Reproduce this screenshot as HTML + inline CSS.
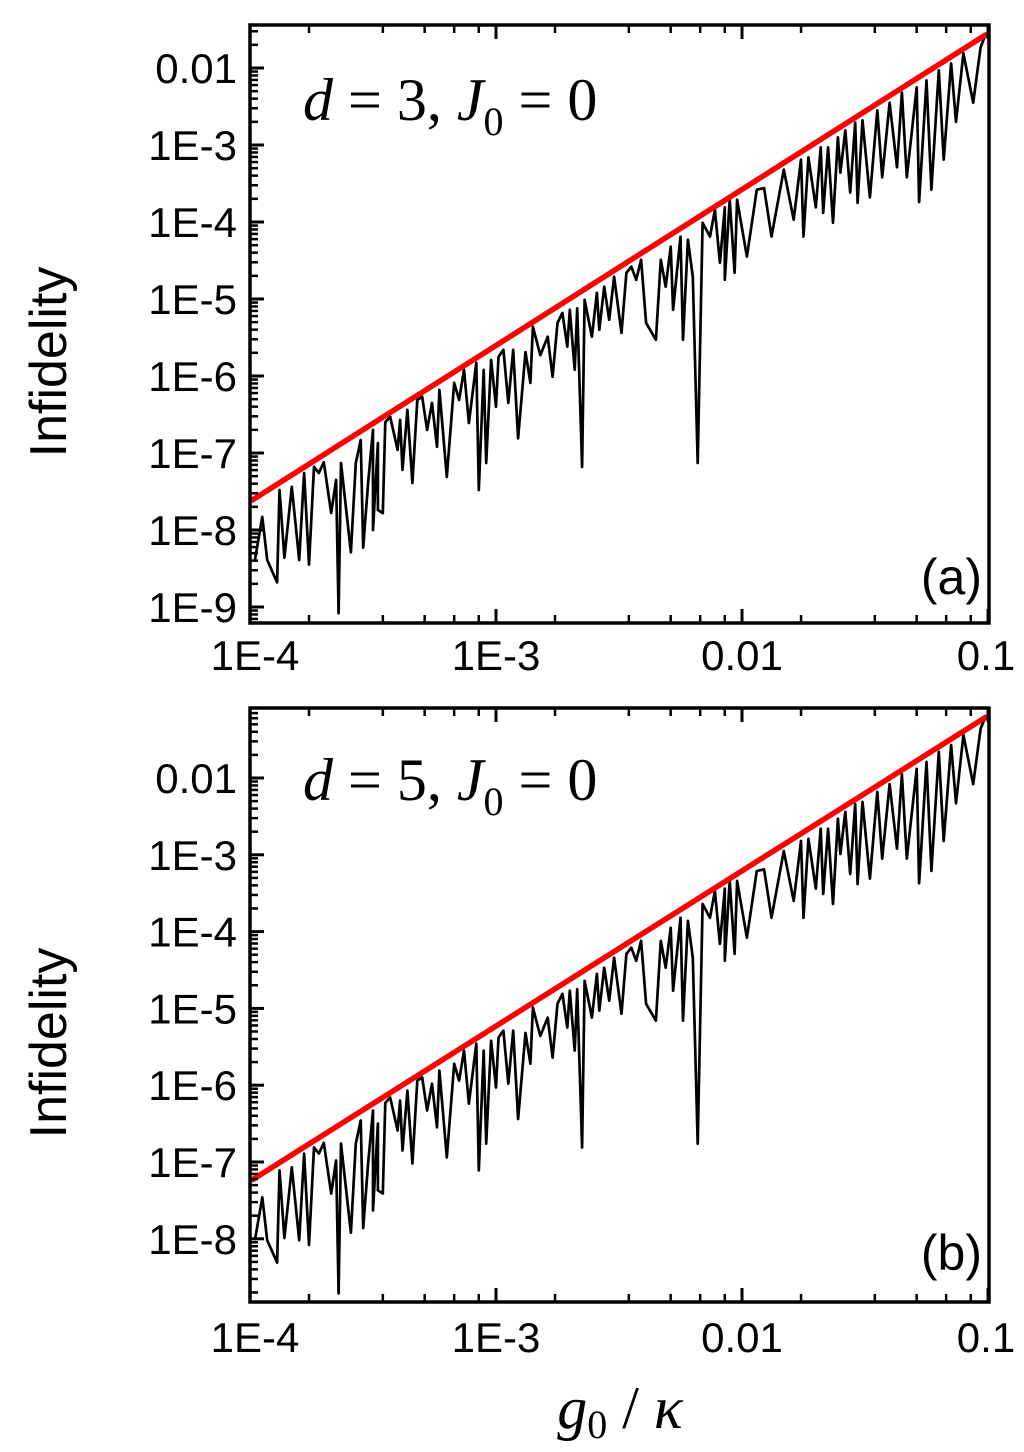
<!DOCTYPE html>
<html><head><meta charset="utf-8"><style>
html,body{margin:0;padding:0;background:#fff;}
svg{display:block;}
text{font-family:"Liberation Sans",sans-serif;fill:#000;}
.serif{font-family:"Liberation Serif",serif;}
</style></head><body>
<svg id="fig" width="1024" height="1452" viewBox="0 0 1024 1452" xmlns="http://www.w3.org/2000/svg">
</svg>
<script>
// log10(g0/kappa) sample positions
const xLog = [-3.98,-3.95,-3.93,-3.89,-3.88,-3.86,-3.83,-3.80,-3.78,-3.76,-3.74,-3.72,-3.70,-3.67,-3.65,-3.64,-3.63,-3.59,-3.57,-3.55,-3.54,-3.52,-3.50,-3.50,-3.48,-3.48,-3.46,-3.45,-3.43,-3.40,-3.39,-3.38,-3.36,-3.34,-3.32,-3.30,-3.28,-3.26,-3.24,-3.23,-3.20,-3.17,-3.15,-3.13,-3.11,-3.08,-3.07,-3.05,-3.04,-3.02,-3.00,-2.99,-2.97,-2.95,-2.93,-2.91,-2.88,-2.86,-2.85,-2.82,-2.79,-2.77,-2.75,-2.73,-2.71,-2.70,-2.68,-2.67,-2.65,-2.64,-2.61,-2.59,-2.58,-2.56,-2.54,-2.52,-2.49,-2.47,-2.45,-2.43,-2.41,-2.39,-2.35,-2.33,-2.31,-2.29,-2.28,-2.25,-2.24,-2.22,-2.20,-2.18,-2.16,-2.13,-2.11,-2.09,-2.07,-2.07,-2.05,-2.03,-2.02,-1.98,-1.94,-1.91,-1.88,-1.83,-1.79,-1.76,-1.75,-1.73,-1.70,-1.68,-1.67,-1.65,-1.63,-1.61,-1.60,-1.58,-1.56,-1.54,-1.53,-1.51,-1.48,-1.45,-1.43,-1.40,-1.37,-1.35,-1.33,-1.29,-1.28,-1.25,-1.23,-1.20,-1.18,-1.15,-1.13,-1.10,-1.06,-1.03,-1.01];
// log10(infidelity), panel (a) d=3
const yLogA = [-8.39,-7.83,-8.39,-8.68,-7.48,-8.36,-7.44,-8.39,-7.26,-8.45,-7.18,-7.26,-7.12,-7.78,-7.35,-9.08,-7.13,-8.29,-7.13,-6.83,-8.23,-7.39,-6.70,-8.00,-6.87,-7.74,-7.78,-6.60,-6.53,-6.96,-6.57,-7.22,-6.44,-7.39,-6.31,-6.27,-6.70,-6.35,-6.92,-6.18,-7.31,-6.09,-6.31,-5.92,-6.61,-5.83,-7.48,-5.92,-7.13,-5.79,-6.40,-5.75,-5.66,-6.35,-5.66,-6.81,-5.69,-6.09,-5.36,-5.73,-5.49,-6.01,-5.31,-5.18,-5.62,-5.14,-5.92,-5.12,-7.18,-5.01,-5.49,-4.92,-5.40,-4.84,-5.27,-4.71,-5.44,-4.66,-4.58,-4.75,-4.49,-5.31,-5.53,-4.49,-4.84,-4.32,-5.14,-4.19,-5.53,-4.23,-4.71,-7.13,-4.01,-4.19,-3.84,-4.53,-3.81,-4.75,-3.71,-4.66,-3.71,-4.45,-3.58,-3.56,-4.19,-3.32,-3.97,-3.19,-4.19,-3.16,-3.81,-3.03,-3.88,-3.03,-4.01,-2.90,-3.36,-2.81,-3.62,-2.71,-3.75,-2.68,-3.68,-2.55,-3.42,-2.45,-3.29,-2.32,-3.42,-2.25,-3.74,-2.16,-3.58,-2.03,-3.19,-1.94,-2.70,-1.81,-2.45,-1.73,-1.57];
// log10(infidelity), panel (b) d=5
const yLogB = [-8.02,-7.46,-8.02,-8.31,-7.11,-7.99,-7.07,-8.02,-6.89,-8.08,-6.81,-6.89,-6.75,-7.41,-6.98,-8.71,-6.76,-7.92,-6.76,-6.46,-7.86,-7.02,-6.33,-7.63,-6.50,-7.37,-7.41,-6.23,-6.16,-6.59,-6.20,-6.85,-6.07,-7.02,-5.94,-5.90,-6.33,-5.98,-6.55,-5.81,-6.94,-5.72,-5.94,-5.55,-6.24,-5.46,-7.11,-5.55,-6.76,-5.42,-6.03,-5.38,-5.29,-5.98,-5.29,-6.44,-5.32,-5.72,-4.99,-5.36,-5.12,-5.64,-4.94,-4.81,-5.25,-4.77,-5.55,-4.75,-6.81,-4.64,-5.12,-4.55,-5.03,-4.47,-4.90,-4.34,-5.07,-4.29,-4.21,-4.38,-4.12,-4.94,-5.16,-4.12,-4.47,-3.95,-4.77,-3.82,-5.16,-3.86,-4.34,-6.76,-3.64,-3.82,-3.47,-4.16,-3.44,-4.38,-3.34,-4.29,-3.34,-4.08,-3.21,-3.19,-3.82,-2.95,-3.60,-2.82,-3.82,-2.79,-3.44,-2.66,-3.51,-2.66,-3.64,-2.53,-2.99,-2.44,-3.25,-2.34,-3.38,-2.31,-3.31,-2.18,-3.05,-2.08,-2.92,-1.95,-3.05,-1.88,-3.37,-1.79,-3.21,-1.66,-2.82,-1.57,-2.33,-1.44,-2.08,-1.36,-1.20];
// red upper-bound lines (log10 values)
const redX = [-3.99,-1.01];
const redYA = [-7.61,-1.57];
const redYB = [-7.23,-1.21];
// tick labels
const xTickVals = [-4,-3,-2,-1];
const xTickLabels = ["1E-4","1E-3","0.01","0.1"];
const yTickValsA = [-9,-8,-7,-6,-5,-4,-3,-2];
const yTickLabelsA = ["1E-9","1E-8","1E-7","1E-6","1E-5","1E-4","1E-3","0.01"];
const yTickValsB = [-8,-7,-6,-5,-4,-3,-2];
const yTickLabelsB = ["1E-8","1E-7","1E-6","1E-5","1E-4","1E-3","0.01"];

const NS="http://www.w3.org/2000/svg";
const svg=document.getElementById('fig');
function mk(tag,attrs,parent){const e=document.createElementNS(NS,tag);for(const k in attrs)e.setAttribute(k,attrs[k]);(parent||svg).appendChild(e);return e;}

const L=250,R=989,DX=246;
function xs(v){return L+(v+4)*DX;}
const minorX=[0.24,0.54,0.71,0.83,0.93];
const minorY=[0.301,0.477,0.602,0.699,0.778,0.845,0.903,0.954];

function panel(id,top,bot,y01,dy,yVals,yLabs,yData,red,tag,tagY,labTxt,num,labBase){
  const g=mk('g',{});
  
  
  const ys=v=>y01-(v+2)*dy;
  const clip=mk('clipPath',{id:'clip'+id},g);
  mk('rect',{x:L,y:top,width:R-L,height:bot-top},clip);
  let d='';
  for(let i=0;i<xLog.length;i++){d+=(i?'L':'M')+xs(xLog[i]).toFixed(1)+' '+ys(yData[i]).toFixed(1);}
  const c=mk('path',{d:d,fill:'none',stroke:'#000','stroke-width':2.7,'stroke-linejoin':'round','clip-path':'url(#clip'+id+')'},g);
  
  
  const r=mk('line',{x1:xs(redX[0]),y1:ys(red[0]),x2:xs(redX[1]),y2:ys(red[1]),stroke:'#f00','stroke-width':5.5,'stroke-linecap':'round'},g);
  
  
  const f=mk('rect',{x:L,y:top,width:R-L,height:bot-top,fill:'none',stroke:'#000','stroke-width':3.5},g);
  
  
  const lo=Math.floor(-2-(bot-y01)/dy), hi=Math.ceil(-2+(y01-top)/dy);
  for(let k=lo;k<=hi;k++){
    const y=ys(k);
    if(y>=top&&y<=bot) mk('line',{x1:L,x2:L+14,y1:y,y2:y,stroke:'#000','stroke-width':3},g);
    minorY.forEach(m=>{const yy=ys(k+m);if(yy>top+2&&yy<bot-2)mk('line',{x1:L,x2:L+8,y1:yy,y2:yy,stroke:'#000','stroke-width':2.5},g);});
  }
  yVals.forEach((v,i)=>{
    const t=mk('text',{x:237,y:ys(v)+15,'font-size':42,'text-anchor':'end'},g);
    t.textContent=yLabs[i];
    
    
  });
  xTickVals.forEach((v,i)=>{
    const x=xs(v);
    mk('line',{x1:x,x2:x,y1:bot,y2:bot-14,stroke:'#000','stroke-width':3},g);
    mk('line',{x1:x,x2:x,y1:top,y2:top+14,stroke:'#000','stroke-width':3},g);
    if(v<-1) minorX.forEach(m=>{const xx=xs(v+m);mk('line',{x1:xx,x2:xx,y1:bot,y2:bot-8,stroke:'#000','stroke-width':2.5},g);mk('line',{x1:xx,x2:xx,y1:top,y2:top+8,stroke:'#000','stroke-width':2.5},g);});
    const t=mk('text',{x:x+(i==0?5:(i==3?-2:0)),y:labBase,'font-size':42,'text-anchor':'middle'},g);
    t.textContent=xTickLabels[i];
    
    
  });
  const yl=mk('text',{x:0,y:0,'font-size':52,'text-anchor':'middle',transform:'translate(66,'+((top+bot)/2+38)+') rotate(-90)'},g);
  yl.textContent='Infidelity';
  
  
  const tg=mk('text',{x:982,y:tagY,'font-size':50,'text-anchor':'end'},g);
  tg.textContent=tag;
  
  
  const an=mk('text',{x:303,y:labTxt,'font-size':60,'class':'serif'},g);
  an.innerHTML='<tspan font-style="italic">d</tspan> = '+num+', <tspan font-style="italic">J</tspan><tspan font-size="40" dy="15">0</tspan><tspan dy="-15"> = 0</tspan>';
  
  
}
panel('panel-a',25,623,68,77,yTickValsA,yTickLabelsA,yLogA,redYA,'(a)',594,120,3,670);
panel('panel-b',708,1302,778,76.8,yTickValsB,yTickLabelsB,yLogB,redYB,'(b)',1270,800,5,1352);
const xt=mk('text',{x:620,y:1428,'font-size':60,'text-anchor':'middle','class':'serif'});
xt.innerHTML='<tspan font-style="italic">g</tspan><tspan font-size="40" dy="10">0</tspan><tspan dy="-10"> / </tspan><tspan font-style="italic">κ</tspan>';


</script>
</body></html>
